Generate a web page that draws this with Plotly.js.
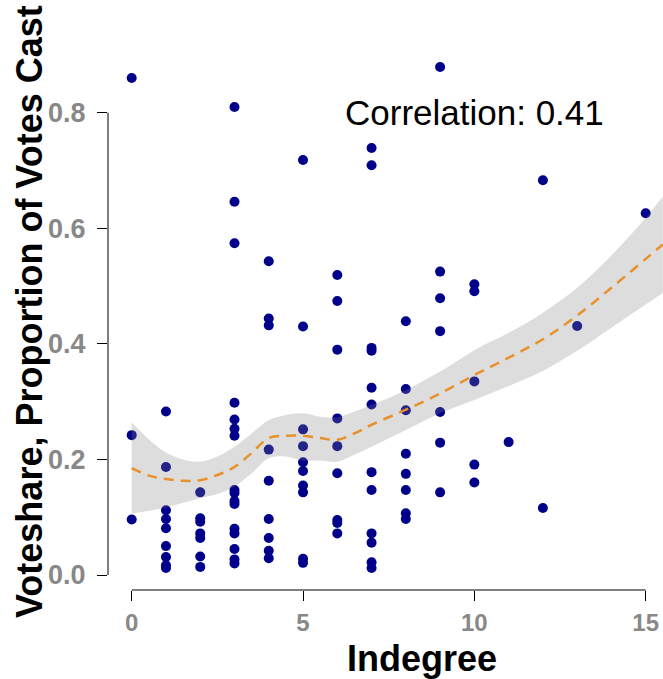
<!DOCTYPE html>
<html>
<head>
<meta charset="utf-8">
<script src="https://cdn.plot.ly/plotly-3.0.1.min.js"></script>
<style>html,body{margin:0;padding:0;background:#fff;}#chart{width:663px;height:679px;}</style>
</head>
<body>
<div id="chart"></div>
<script>
// Indegree values (x) and voteshare values (y) for each candidate
const indegree = [
  0,0,0,
  1,1,1,1,1,1,1,1,1,
  2,2,2,2,2,2,2,
  3,3,3,3,3,3,3,3,3,3,3,3,3,3,3,3,
  4,4,4,4,4,4,4,4,4,
  5,5,5,5,5,5,5,5,5,5,
  6,6,6,6,6,6,6,6,6,
  7,7,7,7,7,7,7,7,7,7,7,7,
  8,8,8,8,8,8,8,8,
  9,9,9,9,9,9,9,
  10,10,10,10,10,
  11,
  12,12,
  13,
  15
];
const voteshare = [
  0.860,0.242,0.096,
  0.283,0.187,0.112,0.097,0.081,0.050,0.031,0.017,0.012,
  0.143,0.098,0.092,0.072,0.064,0.032,0.014,
  0.810,0.646,0.574,0.298,0.269,0.253,0.241,0.147,0.142,0.128,0.123,0.080,0.072,0.045,0.027,0.020,
  0.543,0.444,0.432,0.217,0.163,0.097,0.064,0.042,0.029,
  0.718,0.430,0.252,0.223,0.195,0.180,0.155,0.143,0.028,0.021,
  0.519,0.474,0.390,0.271,0.223,0.176,0.095,0.090,0.072,
  0.739,0.709,0.393,0.388,0.324,0.295,0.178,0.147,0.072,0.056,0.022,0.012,
  0.439,0.322,0.285,0.210,0.175,0.147,0.107,0.097,
  0.879,0.525,0.479,0.422,0.282,0.229,0.143,
  0.503,0.491,0.335,0.191,0.160,
  0.230,
  0.683,0.116,
  0.431,
  0.626
];
// Loess fit and its confidence band
const fitX     = [0,    0.5,  1,    1.5,  2,    2.5,  3,    3.5,  4,    4.5,  5,    5.5,  6,    6.5,  7,    8,    9,    10,   11,   12,   13,   14,   15,   15.5];
const fitY     = [0.185,0.172,0.166,0.163,0.164,0.173,0.187,0.211,0.237,0.241,0.241,0.237,0.234,0.245,0.260,0.286,0.314,0.346,0.376,0.408,0.449,0.497,0.547,0.572];
const bandUpper= [0.264,0.235,0.212,0.200,0.196,0.205,0.222,0.245,0.268,0.277,0.280,0.274,0.273,0.283,0.294,0.320,0.352,0.389,0.419,0.454,0.497,0.553,0.618,0.655];
const bandLower= [0.106,0.111,0.117,0.125,0.133,0.140,0.153,0.176,0.202,0.205,0.198,0.198,0.196,0.208,0.222,0.251,0.280,0.303,0.327,0.353,0.388,0.428,0.468,0.488];
const xTicks = [0,5,10,15];
const yTicks = [0,0.2,0.4,0.6,0.8];
const yTickText = ['0.0','0.2','0.4','0.6','0.8'];
const corrLabel = 'Correlation: 0.41';
const xTitle = 'Indegree';
const yTitle = 'Voteshare, Proportion of Votes Cast';

const FONT = 'Liberation Sans, Arial, Helvetica, sans-serif';

const traces = [
  {x: indegree, y: voteshare, type: 'scatter', mode: 'markers',
   marker: {color: '#00008B', size: 10, line: {width: 0}}, hoverinfo: 'skip', showlegend: false},
  {x: fitX, y: bandLower, type: 'scatter', mode: 'lines',
   line: {width: 0, shape: 'spline', smoothing: 1}, hoverinfo: 'skip', showlegend: false},
  {x: fitX, y: bandUpper, type: 'scatter', mode: 'lines', fill: 'tonexty',
   fillcolor: 'rgba(128,128,128,0.27)',
   line: {width: 0, shape: 'spline', smoothing: 1}, hoverinfo: 'skip', showlegend: false},
  {x: fitX, y: fitY, type: 'scatter', mode: 'lines',
   line: {color: '#E8912A', width: 2.5, dash: '10px,7px', shape: 'spline', smoothing: 1},
   hoverinfo: 'skip', showlegend: false}
];

const layout = {
  width: 663, height: 679,
  margin: {l: 108, r: 0, t: 40, b: 89, pad: 0},
  paper_bgcolor: '#ffffff', plot_bgcolor: '#ffffff',
  showlegend: false,
  xaxis: {
    range: [-0.6916, 15.505], tickvals: xTicks, ticktext: xTicks.map(String),
    ticks: 'outside', ticklen: 10, tickwidth: 1, tickcolor: '#000000',
    showline: false, showgrid: false, zeroline: false, fixedrange: true,
    ticklabelstandoff: 1,
    tickfont: {family: FONT, size: 24, color: '#888888', weight: 'bold'}
  },
  yaxis: {
    range: [-0.02596, 0.9258], tickvals: yTicks, ticktext: yTickText,
    ticks: 'outside', ticklen: 10, tickwidth: 1, tickcolor: '#000000',
    showline: false, showgrid: false, zeroline: false, fixedrange: true,
    ticklabelstandoff: 6,
    tickfont: {family: FONT, size: 27, color: '#888888', weight: 'bold'},
    automargin: false
  },
  shapes: [
    {type: 'line', xref: 'paper', yref: 'y', x0: 0, x1: 0, y0: yTicks[0], y1: yTicks[yTicks.length-1],
     line: {color: '#000000', width: 1}},
    {type: 'line', xref: 'x', yref: 'paper', x0: xTicks[0], x1: xTicks[xTicks.length-1], y0: 0, y1: 0,
     line: {color: '#000000', width: 1}}
  ],
  annotations: [
    {text: corrLabel, xref: 'x', yref: 'y', x: 10, y: 0.8, showarrow: false,
     xanchor: 'center', yanchor: 'middle',
     font: {family: FONT, size: 35, color: '#000000'}},
    {text: xTitle, xref: 'paper', yref: 'paper', x: 0.5658, y: -0.125, showarrow: false,
     xanchor: 'center', yanchor: 'middle',
     font: {family: FONT, size: 36, color: '#000000', weight: 'bold'}},
    {text: yTitle, xref: 'paper', yref: 'paper', x: -0.1405, y: 0.5055, showarrow: false,
     textangle: -90, xanchor: 'center', yanchor: 'middle',
     font: {family: FONT, size: 36, color: '#000000', weight: 'bold'}}
  ]
};

Plotly.newPlot('chart', traces, layout, {displayModeBar: false, staticPlot: true});
</script>
</body>
</html>
